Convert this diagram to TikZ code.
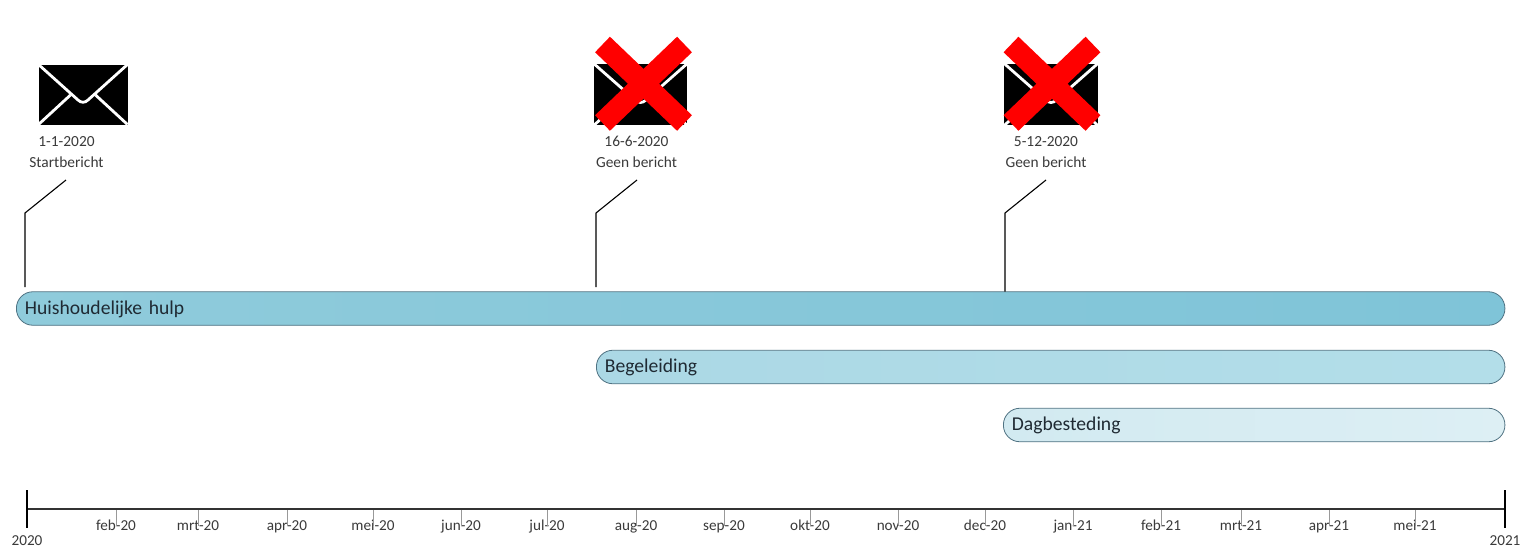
\documentclass[tikz,border=0pt]{standalone}
\usepackage{fontspec}
\setmainfont{Carlito}
\definecolor{txt}{HTML}{3A3A3A}
\definecolor{bartxt}{HTML}{1F2A33}
\definecolor{barline}{HTML}{4F7282}
\definecolor{hh1}{HTML}{8FCBDB}
\definecolor{hh2}{HTML}{7FC4D8}
\definecolor{bg1}{HTML}{ABD8E5}
\definecolor{bg2}{HTML}{B3DEE9}
\definecolor{db1}{HTML}{D2EAF1}
\definecolor{db2}{HTML}{DDEFF4}
\tikzset{
  x=1pt,y=-1pt,
  bar/.style={draw=barline,line width=0.8pt,rounded corners=16.5pt,minimum height=33.5pt,
     inner xsep=8.5pt,inner ysep=0pt,anchor=west,align=left,font=\fontsize{19.6}{21}\selectfont,text=bartxt,
     text height=15pt,text depth=4pt},
  msg/.style={font=\fontsize{15.4}{21}\selectfont,text=txt,align=center,inner sep=0pt,anchor=center},
  lead/.style={black,line width=1.1pt},
  month/.style={font=\fontsize{15.2}{17}\selectfont,text=txt,inner sep=0pt,anchor=center,text height=13pt,text depth=3.6pt},
  tickm/.style={black!40,line width=0.8pt},
  axisline/.style={black!80,line width=1.4pt},
  endtick/.style={black,line width=1.1pt},
  nocross/.style={red,line width=21.5pt},
  envelope/.pic={
    \fill[black] (-44.5,-30) rectangle (44.5,30);
    \draw[white,line width=2.8pt,line join=round]
      (-44.5,-30) -- (-5,5.5) .. controls (-2,8.5) and (2,8.5) .. (5,5.5) -- (44.5,-30);
    \draw[white,line width=2.8pt] (-44.5,30) -- (-12.5,0.5);
    \draw[white,line width=2.8pt] (44.5,30) -- (12.5,0.5);
  }
}
\begin{document}
\begin{tikzpicture}
\useasboundingbox (0,0) rectangle (1521,549);
\fill[white] (0,0) rectangle (1521,549);

% envelopes
\pic at (83,94.5) {envelope};
\pic[yscale=1.03,xscale=1.05] at (640.5,94.5) {envelope};
\pic[yscale=1.03,xscale=1.05] at (1051,94.5) {envelope};

% message labels
\node[msg] (m1) at (66.5,152) {1-1-2020\\Startbericht};
\node[msg] (m2) at (636.5,152) {16-6-2020\\Geen bericht};
\node[msg] (m3) at (1046,152) {5-12-2020\\Geen bericht};

% red crosses
\coordinate (x1a) at (602.5,44.5); \coordinate (x1b) at (684.5,123);
\coordinate (x1c) at (684.5,44.5); \coordinate (x1d) at (602.5,123);
\coordinate (x2a) at (1011,44.5); \coordinate (x2b) at (1093,123);
\coordinate (x2c) at (1093,44.5); \coordinate (x2d) at (1011,123);
\draw[nocross] (x1a) -- (x1b);
\draw[nocross] (x1c) -- (x1d);
\draw[nocross] (x2a) -- (x2b);
\draw[nocross] (x2c) -- (x2d);

% bars
\node[bar,left color=hh1,right color=hh2,minimum width=1488.5pt,text width=1471.5pt] (hh) at (16,308.5) {Huishoudelijke hulp};
\node[bar,left color=bg1,right color=bg2,minimum width=908.5pt,text width=891.5pt] (bg) at (596,367) {Begeleiding};
\node[bar,left color=db1,right color=db2,minimum width=501.5pt,text width=484.5pt] (db) at (1003,425) {Dagbesteding};

% leader lines
\coordinate (l1a) at (66,180); \coordinate (l1b) at (25,213); \coordinate (l1c) at (25,287);
\coordinate (l2a) at (637,180); \coordinate (l2b) at (596,213); \coordinate (l2c) at (596,287);
\coordinate (l3a) at (1046,180); \coordinate (l3b) at (1005,213); \coordinate (l3c) at (1005,291.5);
\draw[lead] (l1a) -- (l1b) -- (l1c);
\draw[lead] (l2a) -- (l2b) -- (l2c);
\draw[lead] (l3a) -- (l3b) -- (l3c);

% time axis
\coordinate (a0) at (27,509); \coordinate (a1) at (1505,509);
\foreach \px/\lab/\nm in {116/feb-20/a,198/mrt-20/b,287/apr-20/c,373/mei-20/d,461/jun-20/e,547/jul-20/f,636/aug-20/g,724/sep-20/h,810/okt-20/i,898/nov-20/j,985/dec-20/k,1073/jan-21/l,1161/feb-21/m,1241/mrt-21/n,1329/apr-21/o,1415/mei-21/p}{
  \node[month] (t\nm) at (\px,526) {\lab};
  \coordinate (u\nm) at (\px,509);
  \draw[tickm] (u\nm) -- (t\nm.center);
}
\draw[axisline] (a0) -- (a1);
\node[month] (y0) at (27,541) {2020};
\node[month] (y1) at (1505,541) {2021};
\coordinate (e0) at (27,490); \coordinate (e1) at (1505,490);
\coordinate (f0) at (27,528); \coordinate (f1) at (1505,528);
\draw[endtick] (e0) -- (f0);
\draw[endtick] (e1) -- (f1);
\end{tikzpicture}
\end{document}
